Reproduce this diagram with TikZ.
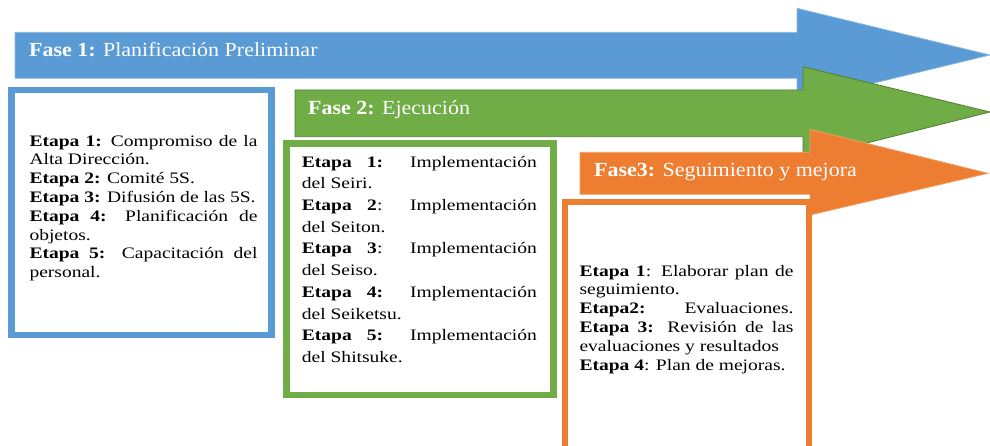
\documentclass[tikz,border=0pt]{standalone}
\usepackage{fontspec}
\setmainfont{Liberation Serif}
\newfontfamily\cajafont[FakeStretch=1.22]{Liberation Serif}
\newfontfamily\fasefont[FakeStretch=1.1]{Liberation Serif}
\definecolor{azul}{HTML}{5B9BD5}
\definecolor{verde}{HTML}{70AD47}
\definecolor{verdeosc}{HTML}{507E32}
\definecolor{naranja}{HTML}{ED7D31}
\begin{document}
\begin{tikzpicture}[x=1pt,y=-1pt,
  fase/.style={anchor=base west,inner sep=0pt,text=white,font=\fasefont\fontsize{20}{24}\selectfont},
  etapas/.style={anchor=north west,inner sep=0pt,text width=#1,align=justify,font=\cajafont\fontsize{16}{18.8}\selectfont},
  marco/.style={line width=6.5pt}]
  \useasboundingbox (0,0) rectangle (990,446);
  \filldraw[fill=azul,draw=azul!70!white,line width=.8pt] (15,32.3)--(797,32.3)--(797,8.3)--(990,55)--(797,101.7)--(797,78.3)--(15,78.3)--cycle;
  \draw[marco,azul] (11.7,90) rectangle (271.5,335);
  \node[fase] (fase1) at (29,56.7) {\textbf{Fase 1:} Planificación Preliminar};
  \node[etapas=228pt] (etapas1) at (29.3,134.8) {\textbf{Etapa 1:} Compromiso de la\linebreak Alta Dirección.\newline \textbf{Etapa 2:} Comité 5S.\newline \textbf{Etapa 3:} Difusión de las 5S.\newline \textbf{Etapa 4:} Planificación de\linebreak objetos.\newline \textbf{Etapa 5:} Capacitación del\linebreak personal.};
  \filldraw[fill=verde,draw=verdeosc,line width=.8pt] (295,90)--(803,90)--(803,66.7)--(990,112)--(803,159)--(803,136.7)--(295,136.7)--cycle;
  \draw[marco,verde] (286.3,143.3) rectangle (553.3,395);
  \node[fase] (fase2) at (308,115) {\textbf{Fase 2:} Ejecución};
  \node[etapas=235pt,font=\cajafont\fontsize{16}{21.7}\selectfont] (etapas2) at (301.7,155.8) {\textbf{Etapa 1:} Implementación\linebreak del Seiri.\newline \textbf{Etapa 2}: Implementación\linebreak del Seiton.\newline \textbf{Etapa 3}: Implementación\linebreak del Seiso.\newline \textbf{Etapa 4:} Implementación\linebreak del Seiketsu.\newline \textbf{Etapa 5:} Implementación\linebreak del Shitsuke.};
  \filldraw[fill=naranja,draw=naranja!75!white,line width=.8pt] (580,152.3)--(810,152.3)--(810,129.3)--(988,173.3)--(810,215)--(810,194.3)--(580,194.3)--cycle;
  \draw[marco,naranja] (565,202) rectangle (809,470);
  \node[fase] (fase3) at (594,177) {\textbf{Fase3:} Seguimiento y mejora};
  \node[etapas=214pt] (etapas3) at (579.3,264.8) {\textbf{Etapa 1}: Elaborar plan de\linebreak seguimiento.\newline \textbf{Etapa2:} Evaluaciones.\linebreak \textbf{Etapa 3:} Revisión de las\linebreak evaluaciones y resultados\newline \textbf{Etapa 4}: Plan de mejoras.};
\end{tikzpicture}
\end{document}
